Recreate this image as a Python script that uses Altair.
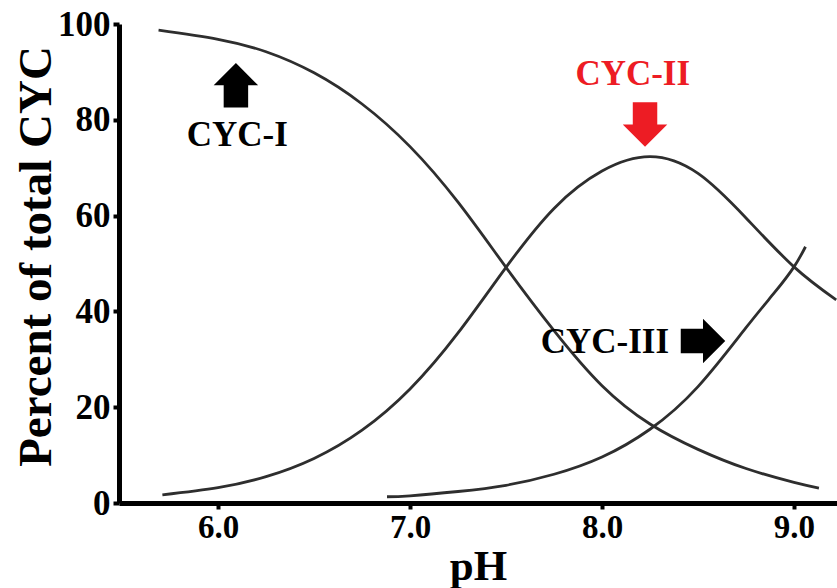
import altair as alt
import pandas as pd

# ---- curve data (pH, percent of total CYC) ----
ph_cyc1 = [5.69, 6.00, 6.25, 6.50, 6.75, 7.00, 7.25, 7.50, 7.75, 8.00, 8.25, 8.50, 8.75, 9.00, 9.13]
val_cyc1 = [98.7, 96.8, 94.2, 89.8, 83.3, 74.4, 62.8, 49.2, 36.0, 24.5, 16.5, 11.2, 7.2, 4.3, 3.1]

ph_cyc2 = [5.71, 6.00, 6.25, 6.50, 6.75, 7.00, 7.25, 7.50, 7.75, 8.00, 8.25, 8.50, 8.75, 9.00, 9.22]
val_cyc2 = [1.7, 3.2, 5.5, 9.3, 15.2, 23.8, 35.5, 49.2, 61.5, 69.3, 72.3, 68.8, 59.5, 49.3, 42.4]

ph_cyc3 = [6.88, 7.00, 7.25, 7.50, 7.75, 8.00, 8.25, 8.50, 8.75, 8.90, 9.00, 9.06]
val_cyc3 = [1.3, 1.5, 2.4, 3.7, 6.0, 9.6, 15.4, 24.3, 36.6, 44.0, 49.3, 53.5]

# ---- annotations ----
label_text = ["CYC-I", "CYC-II", "CYC-III"]
label_ph = [6.10, 8.16, 8.015]
label_val = [76.8, 89.6, 33.7]
label_color = ["#000000", "#ed1c24", "#000000"]

arrow_name = ["up", "down", "right"]
arrow_ph = [6.093, 8.224, 8.526]
arrow_val = [87.2, 79.0, 33.8]
arrow_color = ["#000000", "#ed1c24", "#000000"]

x_ticks = [6.0, 7.0, 8.0, 9.0]
y_ticks = [0, 20, 40, 60, 80, 100]

rows = []
for name, xs, ys in [("CYC-I", ph_cyc1, val_cyc1), ("CYC-II", ph_cyc2, val_cyc2), ("CYC-III", ph_cyc3, val_cyc3)]:
    for x, y in zip(xs, ys):
        rows.append({"series": name, "pH": x, "pct": y})
curves = pd.DataFrame(rows)

labels = pd.DataFrame({"text": label_text, "pH": label_ph, "pct": label_val, "color": label_color})
arrows = pd.DataFrame({"name": arrow_name, "pH": arrow_ph, "pct": arrow_val, "color": arrow_color})

FONT = "Liberation Serif"

xscale = alt.Scale(domain=[5.484, 9.224], nice=False, zero=False)
yscale = alt.Scale(domain=[0, 100], nice=False)

xaxis = alt.Axis(
    values=x_ticks, format=".1f", title="pH",
    labelFont=FONT, labelFontSize=33, labelFontWeight="bold", labelColor="black",
    labelPadding=2, tickSize=6, tickWidth=4, tickColor="black",
    domainWidth=5, domainColor="black", grid=False,
    titleFont=FONT, titleFontSize=43, titleFontWeight="bold", titleColor="black",
    titlePadding=1,
)
yaxis = alt.Axis(
    values=y_ticks, title="Percent of total CYC",
    labelFont=FONT, labelFontSize=35, labelFontWeight="bold", labelColor="black",
    labelPadding=3, tickSize=6, tickWidth=4, tickColor="black",
    domainWidth=5, domainColor="black", grid=False,
    titleFont=FONT, titleFontSize=47, titleFontWeight="bold", titleColor="black",
    titleAngle=270, titleAlign="center", titleBaseline="alphabetic",
    titleX=-69, titleY=232,
)

lines = alt.Chart(curves).mark_line(
    interpolate="natural", color="#2e2e2e", strokeWidth=2.8
).encode(
    x=alt.X("pH:Q", scale=xscale, axis=xaxis),
    y=alt.Y("pct:Q", scale=yscale, axis=yaxis),
    detail="series:N",
)

text = alt.Chart(labels).mark_text(
    font=FONT, fontSize=35, fontWeight="bold", align="center", baseline="middle"
).encode(
    x=alt.X("pH:Q", scale=xscale),
    y=alt.Y("pct:Q", scale=yscale),
    text="text:N",
    color=alt.Color("color:N", scale=None),
)

shapes = {
    "up": "M0,-1 L1,0 L0.55,0 L0.55,1 L-0.55,1 L-0.55,0 L-1,0 Z",
    "down": "M0,1 L1,0 L0.55,0 L0.55,-1 L-0.55,-1 L-0.55,0 L-1,0 Z",
    "right": "M1,0 L0,1 L0,0.55 L-1,0.55 L-1,-0.55 L0,-0.55 L0,-1 Z",
}

arrow_layers = []
for nm, shp in shapes.items():
    arrow_layers.append(
        alt.Chart(arrows).transform_filter(alt.datum.name == nm).mark_point(
            shape=shp, filled=True, opacity=1, size=1980, strokeWidth=0
        ).encode(
            x=alt.X("pH:Q", scale=xscale),
            y=alt.Y("pct:Q", scale=yscale),
            color=alt.Color("color:N", scale=None),
        )
    )

chart = alt.layer(lines, text, *arrow_layers).properties(
    width=718, height=479,
    autosize=alt.AutoSizeParams(type="none"),
    padding={"left": 119, "top": 24, "right": 0, "bottom": 85},
    background="white",
).configure_view(stroke=None)

chart.save("out.html", embed_options={"renderer": "svg", "actions": False})
